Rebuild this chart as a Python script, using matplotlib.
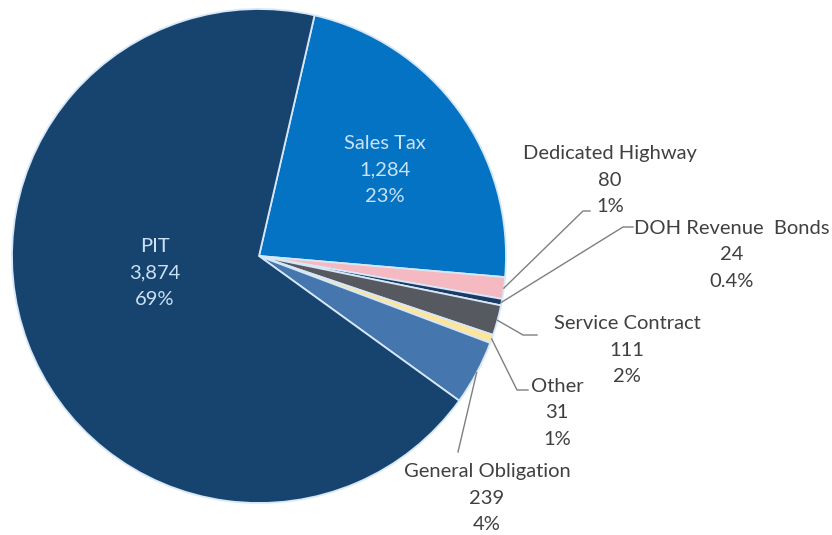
import matplotlib
matplotlib.use('Agg')
import matplotlib.pyplot as plt
import numpy as np

# debt service by revenue source (millions)
names = ['Sales Tax', 'Dedicated Highway', 'DOH Revenue  Bonds', 'Service Contract',
         'Other', 'General Obligation', 'PIT']
values = [1284, 80, 24, 111, 31, 239, 3874]
pct_labels = ['23%', '1%', '0.4%', '2%', '1%', '4%', '69%']
colors = ['#0573c4', '#f5b9c1', '#1c3a66', '#56595f', '#fde59a', '#4576ae', '#17436f']

W, H = 832, 535
fig = plt.figure(figsize=(W / 100, H / 100), dpi=100)
ax = fig.add_axes([0, 0, 1, 1])
ax.set_xlim(0, W)
ax.set_ylim(0, H)
ax.set_aspect('equal')
ax.axis('off')

def py(y):
    # pixel row -> data y
    return H - y

cx, cy, r = 259, 256, 247
start = 77
wedges, _ = ax.pie(values, colors=colors, startangle=start, counterclock=False,
                   center=(cx, py(cy)), radius=r, frame=True,
                   wedgeprops=dict(edgecolor='#d6e8f7', linewidth=1.3))
ax.set_xlim(0, W)
ax.set_ylim(0, H)
ax.axis('off')

font = 'Lato'
fs = 14.5
ls = 1.7
inside = '#c9e2f5'
outside = '#404040'

def label(i):
    return f"{names[i]}\n{values[i]:,}\n{pct_labels[i]}"

# labels drawn inside the two big slices
ax.text(155, py(273), label(6), ha='center', va='center', color=inside,
        fontsize=fs, family=font, linespacing=ls)
ax.text(385, py(170), label(0), ha='center', va='center', color=inside,
        fontsize=fs, family=font, linespacing=ls)

# outside labels: text centre, leader end, short horizontal tick
outer = {
    1: ((610, 180), (583, 211), (590, 211)),
    2: ((732, 255), (623, 227), (633, 227)),
    3: ((627, 350), (523, 335), (537, 335)),
    4: ((557, 413), (517, 390), (528, 390)),
    5: ((487, 498), (458, 452), None),
}
for i, (txt, elbow, tick) in outer.items():
    w = wedges[i]
    mid = np.deg2rad((w.theta1 + w.theta2) / 2)
    x0 = cx + r * np.cos(mid)
    y0 = py(cy) + r * np.sin(mid)
    xs = [x0, elbow[0]]
    ys = [y0, py(elbow[1])]
    if tick is not None:
        xs.append(tick[0])
        ys.append(py(tick[1]))
    ax.plot(xs, ys, color='#7f7f7f', linewidth=1)
    ax.text(txt[0], py(txt[1]), label(i), ha='center', va='center', color=outside,
            fontsize=fs, family=font, linespacing=ls)

fig.savefig('out.png', dpi=100, facecolor='white')
